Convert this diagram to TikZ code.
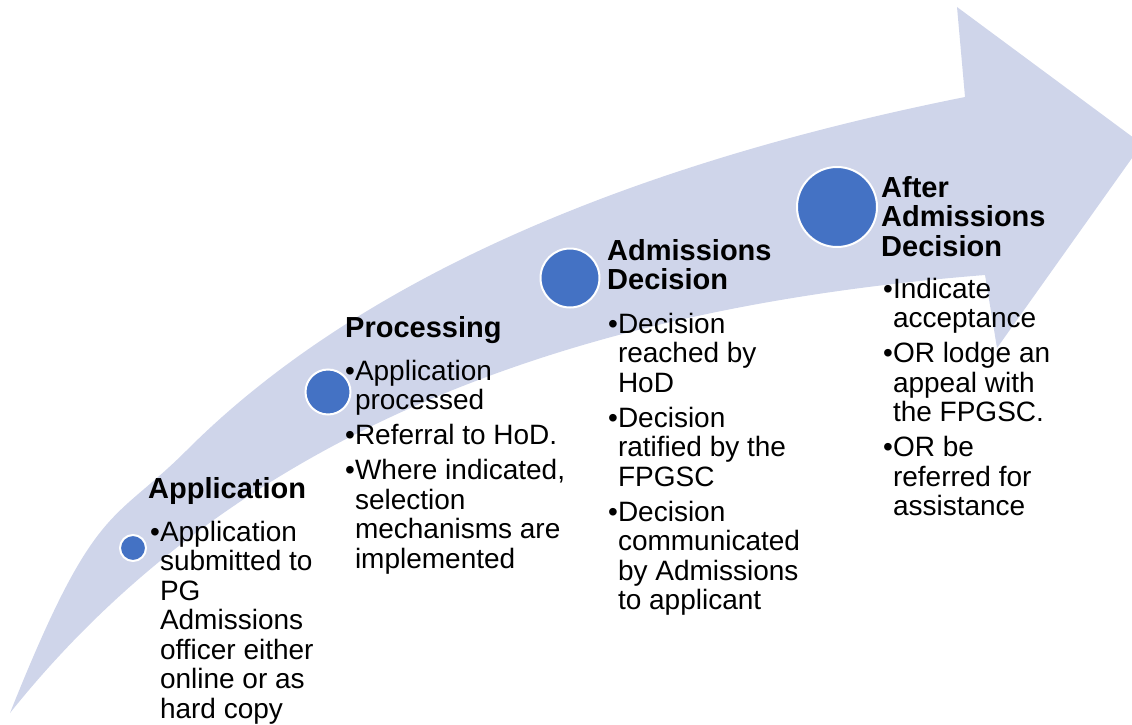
\documentclass[tikz,border=0pt]{standalone}
\usepackage{fontspec}
\setmainfont{Liberation Sans}
\definecolor{bandblue}{HTML}{CFD5EA}
\definecolor{dotblue}{HTML}{4472C4}
\newlength{\bulw}
\newcommand{\itm}[1]{\par\settowidth{\bulw}{•}\hangindent=\bulw\hangafter=1\noindent•#1}
\newcommand{\colbody}[1]{\parbox[t]{260pt}{\fontsize{28}{29.5}\selectfont\parskip=5.5pt #1}}
\newcommand{\colhead}[1]{\parbox[t]{260pt}{\fontsize{29}{29.5}\selectfont\bfseries #1}}
\tikzset{
  dot/.style={circle, fill=dotblue, draw=white, line width=2pt, inner sep=0pt},
  txt/.style={inner sep=0pt, anchor=base west, text=black}
}
\begin{document}
\begin{tikzpicture}[x=1pt, y=-1pt]
\useasboundingbox (0,0) rectangle (1132,725);
\begin{scope}
\clip (0,0) rectangle (1132,725);
\fill[bandblue] (10,713) .. controls (95,500) and (112,525) .. (187,450)
  .. controls (327,310) and (565,177) .. (965,97)
  -- (957,7) -- (1142,144) -- (997,348) -- (985,275)
  .. controls (635,303) and (260,400) .. (10,713) -- cycle;
\end{scope}
\node[dot, minimum size=26pt] (c1) at (133,548) {};
\node[dot, minimum size=45pt] (c2) at (328,392) {};
\node[dot, minimum size=59pt] (c3) at (570,278) {};
\node[dot, minimum size=80pt] (c4) at (837,207) {};

\node[txt] (h1) at (148,498) {\colhead{Application}};
\node[txt] (b1) at (150,541) {\colbody{\itm{Application\newline submitted to\newline PG\newline Admissions\newline officer either\newline online or as\newline hard copy}}};

\node[txt] (h2) at (345,337) {\colhead{Processing}};
\node[txt] (b2) at (345,380) {\colbody{\itm{Application\newline processed}\itm{Referral to HoD.}\itm{Where indicated,\newline selection\newline mechanisms are\newline implemented}}};

\node[txt] (h3) at (607,260) {\colhead{Admissions\\Decision}};
\node[txt] (b3) at (608,333) {\colbody{\itm{Decision\newline reached by\newline HoD}\itm{Decision\newline ratified by the\newline FPGSC}\itm{Decision\newline communicated\newline by Admissions\newline to applicant}}};

\node[txt] (h4) at (881,197) {\colhead{After\\Admissions\\Decision}};
\node[txt] (b4) at (883,298) {\colbody{\itm{Indicate\newline acceptance}\itm{OR lodge an\newline appeal with\newline the FPGSC.}\itm{OR be\newline referred for\newline assistance}}};
\end{tikzpicture}
\end{document}
